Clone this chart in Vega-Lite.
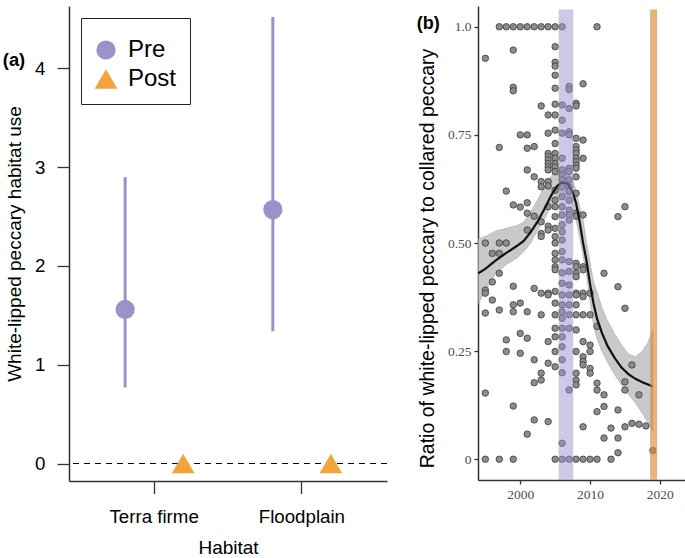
{
  "$schema": "https://vega.github.io/schema/vega-lite/v6.json",
  "padding": {"left": 2, "top": 6, "right": 0, "bottom": 0},
  "autosize": {"type": "pad"},
  "background": "white",
  "spacing": 28,
  "config": {
    "view": {"stroke": null},
    "axis": {"grid": false, "domainColor": "#333333", "tickColor": "#333333", "domainWidth": 1.5, "tickWidth": 1.3},
    "legend": {
      "orient": "top-left", "offset": 12, "padding": 13,
      "strokeColor": "#222222", "fillColor": "white",
      "titleFontSize": 5, "titlePadding": 2,
      "labelFont": "Liberation Sans", "labelFontSize": 24, "labelColor": "black",
      "labelOffset": 10, "rowPadding": 5, "symbolStrokeWidth": 0, "symbolOpacity": 1
    }
  },
  "datasets": {
    "habitat": [
      {"habitat": "Terra firme", "period": "Pre", "use": 1.56, "lo": 0.77, "hi": 2.9},
      {"habitat": "Floodplain", "period": "Pre", "use": 2.57, "lo": 1.34, "hi": 4.52},
      {"habitat": "Terra firme", "period": "Post", "use": 0},
      {"habitat": "Floodplain", "period": "Post", "use": 0}
    ],
    "ratio": [
      {"year":1995,"ratio":0.927},{"year":1995,"ratio":0.5},{"year":1995,"ratio":0.391},{"year":1995,"ratio":0.384},{"year":1995,"ratio":0.338},{"year":1995,"ratio":0.153},{"year":1995,"ratio":0},
      {"year":1996,"ratio":0.476},{"year":1996,"ratio":0.41},{"year":1996,"ratio":0.368},
      {"year":1997,"ratio":1},{"year":1997,"ratio":0.721},{"year":1997,"ratio":0.5},{"year":1997,"ratio":0.476},{"year":1997,"ratio":0.43},{"year":1997,"ratio":0.345},{"year":1997,"ratio":0},
      {"year":1998,"ratio":1},{"year":1998,"ratio":0.62},{"year":1998,"ratio":0.5},{"year":1998,"ratio":0.276},{"year":1998,"ratio":0.249},
      {"year":1999,"ratio":1},{"year":1999,"ratio":0.946},{"year":1999,"ratio":0.86},{"year":1999,"ratio":0.852},{"year":1999,"ratio":0.588},{"year":1999,"ratio":0.4},{"year":1999,"ratio":0.357},{"year":1999,"ratio":0.341},{"year":1999,"ratio":0.123},{"year":1999,"ratio":0},
      {"year":2000,"ratio":1},{"year":2000,"ratio":0.75},{"year":2000,"ratio":0.583},{"year":2000,"ratio":0.361},{"year":2000,"ratio":0.291},{"year":2000,"ratio":0.245},
      {"year":2001,"ratio":1},{"year":2001,"ratio":0.75},{"year":2001,"ratio":0.719},{"year":2001,"ratio":0.669},{"year":2001,"ratio":0.593},{"year":2001,"ratio":0.569},{"year":2001,"ratio":0.53},{"year":2001,"ratio":0.341},{"year":2001,"ratio":0.28},{"year":2001,"ratio":0.058},
      {"year":2002,"ratio":1},{"year":2002,"ratio":0.723},{"year":2002,"ratio":0.653},{"year":2002,"ratio":0.562},{"year":2002,"ratio":0.395},{"year":2002,"ratio":0.23},{"year":2002,"ratio":0.177},{"year":2002,"ratio":0.091},
      {"year":2003,"ratio":1},{"year":2003,"ratio":0.817},{"year":2003,"ratio":0.642},{"year":2003,"ratio":0.63},{"year":2003,"ratio":0.549},{"year":2003,"ratio":0.522},{"year":2003,"ratio":0.515},{"year":2003,"ratio":0.384},{"year":2003,"ratio":0.334},{"year":2003,"ratio":0.199},{"year":2003,"ratio":0.183},
      {"year":2004,"ratio":1},{"year":2004,"ratio":0.796},{"year":2004,"ratio":0.754},{"year":2004,"ratio":0.707},{"year":2004,"ratio":0.7},{"year":2004,"ratio":0.692},{"year":2004,"ratio":0.684},{"year":2004,"ratio":0.676},{"year":2004,"ratio":0.669},{"year":2004,"ratio":0.642},{"year":2004,"ratio":0.632},{"year":2004,"ratio":0.584},{"year":2004,"ratio":0.539},{"year":2004,"ratio":0.53},{"year":2004,"ratio":0.384},{"year":2004,"ratio":0.38},{"year":2004,"ratio":0.272},{"year":2004,"ratio":0.222},{"year":2004,"ratio":0.087},
      {"year":2005,"ratio":1},{"year":2005,"ratio":0.954},{"year":2005,"ratio":0.918},{"year":2005,"ratio":0.909},{"year":2005,"ratio":0.888},{"year":2005,"ratio":0.858},{"year":2005,"ratio":0.821},{"year":2005,"ratio":0.796},{"year":2005,"ratio":0.761},{"year":2005,"ratio":0.73},{"year":2005,"ratio":0.707},{"year":2005,"ratio":0.696},{"year":2005,"ratio":0.684},{"year":2005,"ratio":0.676},{"year":2005,"ratio":0.665},{"year":2005,"ratio":0.622},{"year":2005,"ratio":0.599},{"year":2005,"ratio":0.584},{"year":2005,"ratio":0.561},{"year":2005,"ratio":0.534},{"year":2005,"ratio":0.515},{"year":2005,"ratio":0.5},{"year":2005,"ratio":0.476},{"year":2005,"ratio":0.461},{"year":2005,"ratio":0.445},{"year":2005,"ratio":0.438},{"year":2005,"ratio":0.388},{"year":2005,"ratio":0.361},{"year":2005,"ratio":0.334},{"year":2005,"ratio":0.303},{"year":2005,"ratio":0.283},{"year":2005,"ratio":0.249},{"year":2005,"ratio":0.214},{"year":2005,"ratio":0},
      {"year":2006,"ratio":1},{"year":2006,"ratio":0.819},{"year":2006,"ratio":0.784},{"year":2006,"ratio":0.754},{"year":2006,"ratio":0.696},{"year":2006,"ratio":0.669},{"year":2006,"ratio":0.657},{"year":2006,"ratio":0.646},{"year":2006,"ratio":0.63},{"year":2006,"ratio":0.607},{"year":2006,"ratio":0.584},{"year":2006,"ratio":0.565},{"year":2006,"ratio":0.542},{"year":2006,"ratio":0.526},{"year":2006,"ratio":0.507},{"year":2006,"ratio":0.48},{"year":2006,"ratio":0.461},{"year":2006,"ratio":0.431},{"year":2006,"ratio":0.407},{"year":2006,"ratio":0.38},{"year":2006,"ratio":0.357},{"year":2006,"ratio":0.341},{"year":2006,"ratio":0.326},{"year":2006,"ratio":0.303},{"year":2006,"ratio":0.283},{"year":2006,"ratio":0.26},{"year":2006,"ratio":0.23},{"year":2006,"ratio":0.2},{"year":2006,"ratio":0.037},{"year":2006,"ratio":0},
      {"year":2007,"ratio":0.862},{"year":2007,"ratio":0.855},{"year":2007,"ratio":0.811},{"year":2007,"ratio":0.757},{"year":2007,"ratio":0.75},{"year":2007,"ratio":0.673},{"year":2007,"ratio":0.665},{"year":2007,"ratio":0.646},{"year":2007,"ratio":0.63},{"year":2007,"ratio":0.619},{"year":2007,"ratio":0.599},{"year":2007,"ratio":0.576},{"year":2007,"ratio":0.565},{"year":2007,"ratio":0.553},{"year":2007,"ratio":0.457},{"year":2007,"ratio":0.434},{"year":2007,"ratio":0.403},{"year":2007,"ratio":0.38},{"year":2007,"ratio":0.357},{"year":2007,"ratio":0.334},{"year":2007,"ratio":0.303},{"year":2007,"ratio":0.16},{"year":2007,"ratio":0},
      {"year":2008,"ratio":0.823},{"year":2008,"ratio":0.817},{"year":2008,"ratio":0.742},{"year":2008,"ratio":0.723},{"year":2008,"ratio":0.715},{"year":2008,"ratio":0.707},{"year":2008,"ratio":0.696},{"year":2008,"ratio":0.688},{"year":2008,"ratio":0.68},{"year":2008,"ratio":0.673},{"year":2008,"ratio":0.653},{"year":2008,"ratio":0.615},{"year":2008,"ratio":0.569},{"year":2008,"ratio":0.562},{"year":2008,"ratio":0.453},{"year":2008,"ratio":0.445},{"year":2008,"ratio":0.43},{"year":2008,"ratio":0.422},{"year":2008,"ratio":0.384},{"year":2008,"ratio":0.38},{"year":2008,"ratio":0.357},{"year":2008,"ratio":0.334},{"year":2008,"ratio":0.299},{"year":2008,"ratio":0.249},{"year":2008,"ratio":0.199},{"year":2008,"ratio":0.183},{"year":2008,"ratio":0.172},{"year":2008,"ratio":0},
      {"year":2009,"ratio":0.868},{"year":2009,"ratio":0.738},{"year":2009,"ratio":0.696},{"year":2009,"ratio":0.565},{"year":2009,"ratio":0.445},{"year":2009,"ratio":0.438},{"year":2009,"ratio":0.384},{"year":2009,"ratio":0.376},{"year":2009,"ratio":0.334},{"year":2009,"ratio":0.272},{"year":2009,"ratio":0.237},{"year":2009,"ratio":0.226},{"year":2009,"ratio":0.218},{"year":2009,"ratio":0.075},{"year":2009,"ratio":0},
      {"year":2010,"ratio":0.384},{"year":2010,"ratio":0.334},{"year":2010,"ratio":0.264},{"year":2010,"ratio":0.249},{"year":2010,"ratio":0.21},{"year":2010,"ratio":0.199},{"year":2010,"ratio":0},
      {"year":2011,"ratio":1},{"year":2011,"ratio":0.307},{"year":2011,"ratio":0.176},{"year":2011,"ratio":0.16},{"year":2011,"ratio":0.11},{"year":2011,"ratio":0},
      {"year":2012,"ratio":0.43},{"year":2012,"ratio":0.149},{"year":2012,"ratio":0.122},{"year":2012,"ratio":0.049},
      {"year":2013,"ratio":0.072},{"year":2013,"ratio":0},
      {"year":2014,"ratio":0.561},{"year":2014,"ratio":0.399},{"year":2014,"ratio":0.114},{"year":2014,"ratio":0.049},{"year":2014,"ratio":0.015},
      {"year":2015,"ratio":0.584},{"year":2015,"ratio":0.349},{"year":2015,"ratio":0.179},{"year":2015,"ratio":0.16},{"year":2015,"ratio":0.075},
      {"year":2016,"ratio":0.218},{"year":2016,"ratio":0.083},
      {"year":2017,"ratio":0.149},{"year":2017,"ratio":0.081},
      {"year":2018,"ratio":0.077},
      {"year":2019,"ratio":0.02}
    ],
    "smooth": [
      {"year":1994.0,"fit":0.43,"lo":0.36,"hi":0.51},
      {"year":1995.0,"fit":0.44,"lo":0.39,"hi":0.515},
      {"year":1996.5,"fit":0.46,"lo":0.43,"hi":0.528},
      {"year":1998.0,"fit":0.477,"lo":0.45,"hi":0.534},
      {"year":1999.5,"fit":0.493,"lo":0.465,"hi":0.54},
      {"year":2000.5,"fit":0.505,"lo":0.48,"hi":0.548},
      {"year":2001.5,"fit":0.525,"lo":0.5,"hi":0.572},
      {"year":2002.5,"fit":0.55,"lo":0.53,"hi":0.6},
      {"year":2003.5,"fit":0.58,"lo":0.556,"hi":0.632},
      {"year":2004.5,"fit":0.612,"lo":0.59,"hi":0.656},
      {"year":2005.3,"fit":0.632,"lo":0.604,"hi":0.667},
      {"year":2005.9,"fit":0.64,"lo":0.611,"hi":0.669},
      {"year":2006.8,"fit":0.637,"lo":0.607,"hi":0.661},
      {"year":2007.5,"fit":0.618,"lo":0.59,"hi":0.646},
      {"year":2008.0,"fit":0.592,"lo":0.553,"hi":0.62},
      {"year":2008.5,"fit":0.55,"lo":0.515,"hi":0.585},
      {"year":2009.0,"fit":0.5,"lo":0.47,"hi":0.553},
      {"year":2009.5,"fit":0.458,"lo":0.425,"hi":0.5},
      {"year":2010.0,"fit":0.405,"lo":0.365,"hi":0.455},
      {"year":2010.5,"fit":0.36,"lo":0.31,"hi":0.41},
      {"year":2011.0,"fit":0.325,"lo":0.28,"hi":0.387},
      {"year":2011.7,"fit":0.292,"lo":0.25,"hi":0.35},
      {"year":2012.5,"fit":0.262,"lo":0.225,"hi":0.32},
      {"year":2013.5,"fit":0.235,"lo":0.196,"hi":0.29},
      {"year":2014.5,"fit":0.212,"lo":0.172,"hi":0.265},
      {"year":2015.5,"fit":0.197,"lo":0.15,"hi":0.243},
      {"year":2016.5,"fit":0.186,"lo":0.13,"hi":0.237},
      {"year":2017.5,"fit":0.178,"lo":0.106,"hi":0.25},
      {"year":2018.3,"fit":0.173,"lo":0.085,"hi":0.27},
      {"year":2019.0,"fit":0.168,"lo":0.065,"hi":0.3}
    ],
    "bands": [
      {"period": "Pre", "start": 2005.5, "end": 2007.6},
      {"period": "Post", "start": 2018.6, "end": 2019.6}
    ]
  },
  "hconcat": [
    {
      "width": 318,
      "height": 475,
      "layer": [
        {
          "data": {"values": [{"ref": 0}]},
          "mark": {"type": "rule", "strokeDash": [6, 5], "color": "black", "strokeWidth": 1},
          "encoding": {
            "y": {"field": "ref", "type": "quantitative", "scale": {"domain": [-0.177, 4.632], "nice": false, "zero": false},
              "axis": {"values": [0, 1, 2, 3, 4], "format": "d", "title": "White-lipped peccary habitat use", "titleFont": "Liberation Sans", "titleFontSize": 19, "titleFontWeight": "normal", "titleColor": "black", "titlePadding": 10, "labelFont": "Liberation Sans", "labelFontSize": 18.7, "labelColor": "black", "tickSize": 12, "labelPadding": 12}}
          }
        },
        {
          "data": {"name": "habitat"},
          "transform": [{"filter": "isValid(datum.lo)"}],
          "mark": {"type": "rule", "color": "#9b92c9", "strokeWidth": 3},
          "encoding": {
            "x": {"field": "habitat", "type": "nominal", "sort": ["Terra firme", "Floodplain"], "scale": {"paddingInner": 0.2146, "paddingOuter": 0.1838},
              "axis": {"title": "Habitat", "labelAngle": 0, "titleFont": "Liberation Sans", "titleFontSize": 19, "titleFontWeight": "normal", "titleColor": "black", "titlePadding": 12, "labelFont": "Liberation Sans", "labelFontSize": 18.7, "labelColor": "black", "tickSize": 12.5, "labelPadding": 14}},
            "xOffset": {"field": "period", "type": "nominal", "sort": ["Pre", "Post"], "scale": {"domain": ["Pre", "Post"], "paddingInner": 0, "paddingOuter": 0}},
            "y": {"field": "lo", "type": "quantitative"},
            "y2": {"field": "hi"}
          }
        },
        {
          "data": {"name": "habitat"},
          "mark": {"type": "point", "filled": true, "opacity": 1, "strokeWidth": 0},
          "encoding": {
            "x": {"field": "habitat", "type": "nominal", "sort": ["Terra firme", "Floodplain"]},
            "xOffset": {"field": "period", "type": "nominal", "sort": ["Pre", "Post"]},
            "y": {"field": "use", "type": "quantitative"},
            "color": {"field": "period", "type": "ordinal", "scale": {"domain": ["Pre", "Post"], "range": ["#9b92c9", "#f2a43a"]}, "legend": {"title": " "}},
            "shape": {"field": "period", "type": "ordinal", "scale": {"domain": ["Pre", "Post"], "range": ["circle", "triangle-up"]}, "legend": {"title": " "}},
            "size": {"field": "period", "type": "ordinal", "scale": {"domain": ["Pre", "Post"], "range": [370, 515]}, "legend": {"title": " "}}
          }
        },
        {
          "data": {"values": [{"label": "(a)"}]},
          "mark": {"type": "text", "font": "Liberation Sans", "fontWeight": "bold", "fontSize": 18.3, "align": "right", "baseline": "middle", "dx": -129, "color": "black"},
          "encoding": {
            "x": {"datum": "Terra firme", "type": "nominal"},
            "y": {"datum": 4.075, "type": "quantitative"},
            "text": {"field": "label"}
          }
        }
      ]
    },
    {
      "width": 207,
      "height": 474,
      "layer": [
        {
          "data": {"name": "smooth"},
          "mark": {"type": "area", "color": "#c4c4c4", "opacity": 0.9, "stroke": "#9a9a9a", "strokeWidth": 0.6},
          "encoding": {
            "x": {"field": "year", "type": "quantitative", "scale": {"domain": [1993.95, 2023.6], "nice": false, "zero": false},
              "axis": {"values": [2000, 2010, 2020], "format": "d", "title": null, "labelFont": "Liberation Serif", "labelFontSize": 13.5, "labelColor": "#4d4d4d", "tickSize": 4, "labelPadding": 3}},
            "y": {"field": "lo", "type": "quantitative", "scale": {"domain": [-0.048, 1.048], "nice": false, "zero": false},
              "axis": {"values": [0, 0.25, 0.5, 0.75, 1], "labelExpr": "datum.value == 0 ? '0' : datum.value == 1 ? '1.0' : format(datum.value, '.2f')", "title": "Ratio of white-lipped peccary to collared peccary", "titleFont": "Liberation Sans", "titleFontSize": 19.5, "titleFontWeight": "normal", "titleColor": "black", "titlePadding": 10, "titleY": 252, "labelFont": "Liberation Serif", "labelFontSize": 13.5, "labelColor": "#4d4d4d", "tickSize": 4, "labelPadding": 3}},
            "y2": {"field": "hi"}
          }
        },
        {
          "data": {"name": "ratio"},
          "mark": {"type": "circle", "size": 42, "fill": "#8c8c8c", "stroke": "#3a3a3a", "strokeWidth": 0.8, "opacity": 1},
          "encoding": {
            "x": {"field": "year", "type": "quantitative"},
            "y": {"field": "ratio", "type": "quantitative"}
          }
        },
        {
          "data": {"name": "smooth"},
          "mark": {"type": "line", "color": "#111111", "strokeWidth": 2.2},
          "encoding": {
            "x": {"field": "year", "type": "quantitative"},
            "y": {"field": "fit", "type": "quantitative"}
          }
        },
        {
          "data": {"name": "bands"},
          "transform": [{"filter": "datum.period == 'Pre'"}],
          "mark": {"type": "rect", "color": "#9d92cf", "opacity": 0.5},
          "encoding": {
            "x": {"field": "start", "type": "quantitative"},
            "x2": {"field": "end"},
            "y": {"datum": -0.048, "type": "quantitative"},
            "y2": {"datum": 1.04}
          }
        },
        {
          "data": {"name": "bands"},
          "transform": [{"filter": "datum.period == 'Post'"}],
          "mark": {"type": "rect", "color": "#dc8a3a", "opacity": 0.65},
          "encoding": {
            "x": {"field": "start", "type": "quantitative"},
            "x2": {"field": "end"},
            "y": {"datum": -0.048, "type": "quantitative"},
            "y2": {"datum": 1.04}
          }
        },
        {
          "data": {"values": [{"label": "(b)"}]},
          "mark": {"type": "text", "font": "Liberation Sans", "fontWeight": "bold", "fontSize": 18, "align": "right", "baseline": "middle", "color": "black"},
          "encoding": {
            "x": {"datum": 1988.46, "type": "quantitative"},
            "y": {"datum": 1.006, "type": "quantitative"},
            "text": {"field": "label"}
          }
        }
      ]
    }
  ]
}
